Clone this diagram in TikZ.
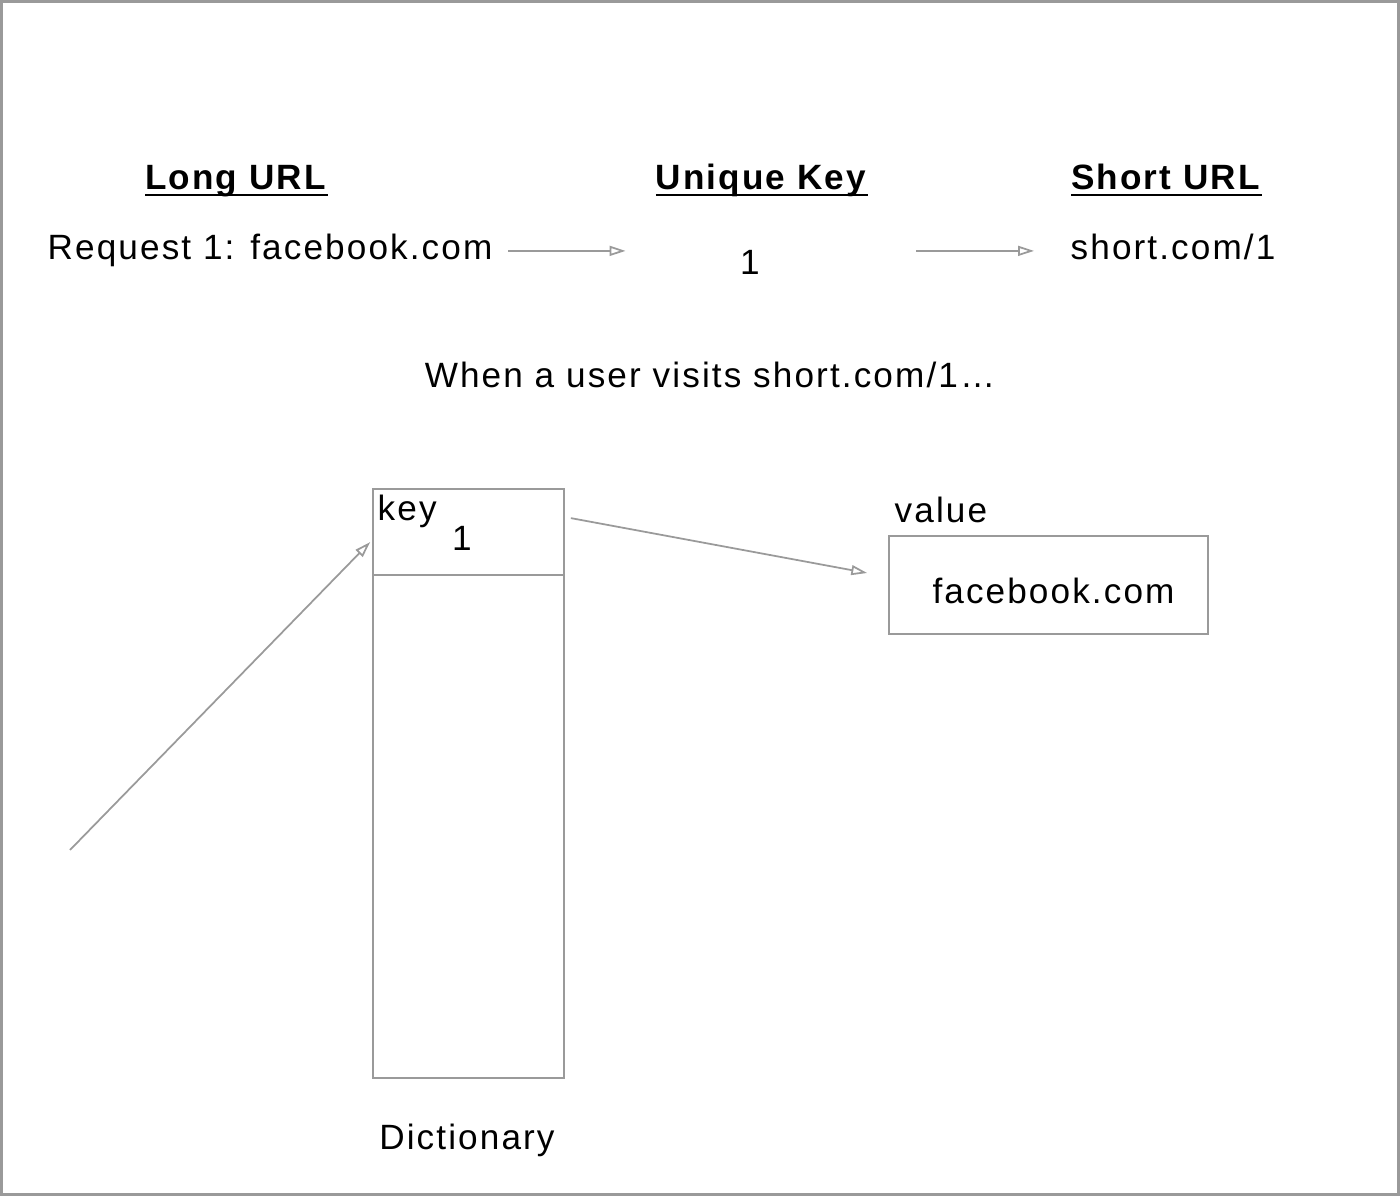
\documentclass[tikz,border=0pt]{standalone}
\usepackage{fontspec}
\setmainfont[LetterSpace=6]{Liberation Sans}
\usetikzlibrary{arrows.meta}
\definecolor{linegray}{HTML}{9A9A9A}
\newcommand{\hdr}[1]{\setbox0\hbox{\textbf{#1}}\rlap{\rule[-1.6pt]{\wd0}{0.6pt}}\box0}

\begin{document}
\begin{tikzpicture}[
	font=\fontsize{10}{12}\selectfont,
	txt/.style={inner sep=0pt},
	box/.style={draw=linegray, line width=0.5pt, inner sep=0pt},
	arr/.style={draw=linegray, line width=0.5pt, -{Triangle[open, length=4.5pt, width=2.8pt]}}
]
  \useasboundingbox (0,0) rectangle (14,-11.96);
  \draw[linegray, line width=0.8pt] (0.014,-0.014) rectangle (13.986,-11.946);

  \node[txt, anchor=base] (hlong) at (2.365, -1.90) {\hdr{Long URL}};
  \node[txt, anchor=base] (hkey) at (7.62, -1.90) {\hdr{Unique Key}};
  \node[txt, anchor=base] (hshort) at (11.665, -1.90) {\hdr{Short URL}};

  \node[txt, anchor=base west] (req) at (0.47, -2.60) {Request 1: facebook.com};
  \node[txt, anchor=base] (key) at (7.50, -2.75) {1};
  \node[txt, anchor=base west] (short) at (10.70, -2.60) {short.com/1};

  \node[txt, anchor=base] (visit) at (7.10, -3.88) {When a user visits short.com/1…};

  \node[box, minimum width=1.91cm, minimum height=5.89cm] (dict) at (4.685, -7.835) {};
  \node[txt, anchor=base west] (dkey) at (3.77, -5.21) {key};
  \node[txt, anchor=base] (k1) at (4.62, -5.51) {1};
  \node[txt, anchor=base] (dname) at (4.67, -11.49) {Dictionary};

  \node[txt, anchor=base west] (vlabel) at (8.94, -5.23) {value};
  \node[box, minimum width=3.19cm, minimum height=0.98cm] (val) at (10.485, -5.85) {};
  \node[txt, anchor=base] (vtext) at (10.535, -6.04) {facebook.com};

  \coordinate (user) at (0.70, -8.50);

	\draw[linegray, line width=0.5pt] ([yshift=-0.87cm]dict.north west) -- ([yshift=-0.87cm]dict.north east);
	\draw[arr, shorten <=0.15cm, shorten >=1.14cm] (req.east) -- (req.east -| key.west);
	\draw[arr, shorten <=1.56cm, shorten >=0.36cm] (key.east |- req.east) -- (short.west |- req.east);
	\draw[arr] ([shift={(0.06,-0.30)}]dict.north east) -- ([shift={(-0.21,0.12)}]val.west);
	\draw[arr] (user) -- ([shift={(-0.02,-0.54)}]dict.north west);

\end{tikzpicture}
\end{document}
